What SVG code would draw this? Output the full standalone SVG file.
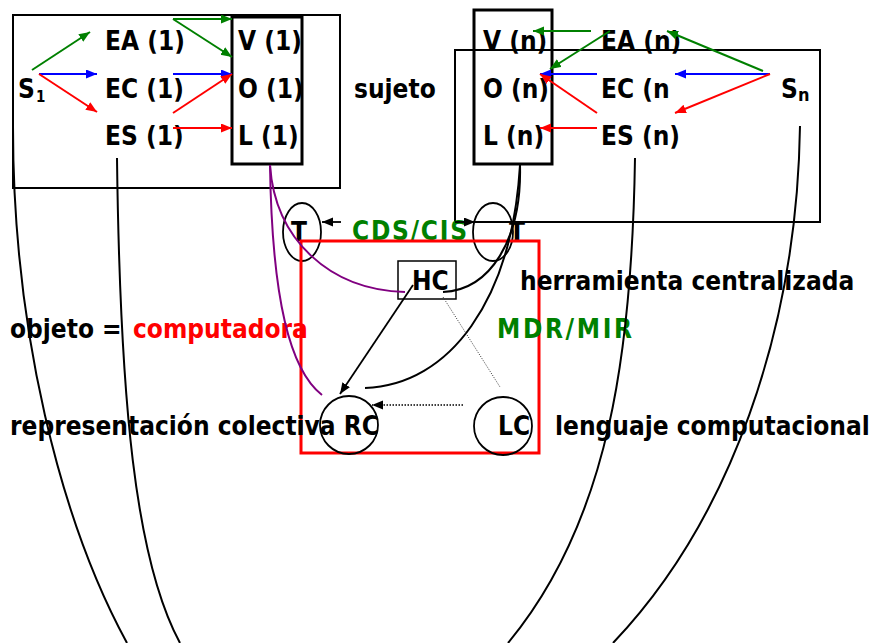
<svg xmlns="http://www.w3.org/2000/svg" width="877" height="643" viewBox="0 0 877 643">
  <defs>
    <style>
      text { font-family: "DejaVu Sans Condensed", "DejaVu Sans", "Liberation Sans", sans-serif; font-stretch: condensed; font-weight: bold; font-size: 26px; fill: #000; }
      .sub { font-size: 15px; }
      .subn { font-size: 18px; }
      .red { fill: #ff0000; }
      .green { fill: #008000; }
      .frame { fill: none; stroke: #000; stroke-width: 2; }
      .inner { fill: none; stroke: #000; stroke-width: 3; }
      .ring { fill: none; stroke: #000; stroke-width: 1.8; }
      .c-black { fill: none; stroke: #000; stroke-width: 2; }
      .c-purple { fill: none; stroke: #800080; stroke-width: 2; }
      .a-green { stroke: #008000; stroke-width: 2; marker-end: url(#ah-green); }
      .a-blue { stroke: #0000ff; stroke-width: 2; marker-end: url(#ah-blue); }
      .a-red { stroke: #ff0000; stroke-width: 2; marker-end: url(#ah-red); }
      .a-black { stroke: #000; stroke-width: 1.8; marker-end: url(#ah-black); }
    </style>
    <marker id="ah-green" markerUnits="userSpaceOnUse" markerWidth="12" markerHeight="10" refX="11" refY="4.5" orient="auto"><path d="M0,0 L11,4.5 L0,9 z" fill="#008000"/></marker>
    <marker id="ah-blue" markerUnits="userSpaceOnUse" markerWidth="12" markerHeight="10" refX="11" refY="4.5" orient="auto"><path d="M0,0 L11,4.5 L0,9 z" fill="#0000ff"/></marker>
    <marker id="ah-red" markerUnits="userSpaceOnUse" markerWidth="12" markerHeight="10" refX="11" refY="4.5" orient="auto"><path d="M0,0 L11,4.5 L0,9 z" fill="#ff0000"/></marker>
    <marker id="ah-black" markerUnits="userSpaceOnUse" markerWidth="12" markerHeight="10" refX="11" refY="4.5" orient="auto"><path d="M0,0 L11,4.5 L0,9 z" fill="#000"/></marker>
  </defs>

  <rect width="877" height="643" fill="#fff"/>

  <!-- subject 1 -->
  <g id="sujeto-1">
    <rect class="frame" x="13" y="15" width="327" height="173"/>
    <text x="18" y="98">S</text><text class="sub" x="36" y="102">1</text>
    <text x="105" y="50">EA (1)</text>
    <text x="105" y="98">EC (1)</text>
    <text x="105" y="145">ES (1)</text>
  </g>
  <g id="vol-1">
    <rect class="inner" x="232" y="17" width="70" height="147"/>
    <text x="238" y="50">V (1)</text>
    <text x="238" y="98">O (1)</text>
    <text x="238" y="145">L (1)</text>
  </g>

  <text id="label-sujeto" x="354" y="98">sujeto</text>

  <!-- subject n -->
  <g id="sujeto-n">
    <rect class="frame" x="455" y="50" width="365" height="172"/>
    <text x="601" y="50">EA (n)</text>
    <text x="601" y="98">EC (n</text>
    <text x="601" y="145">ES (n)</text>
    <text x="781" y="98">S</text><text class="subn" x="798" y="101">n</text>
  </g>
  <g id="vol-n">
    <rect class="inner" x="474" y="10" width="78" height="154"/>
    <text x="483" y="50">V (n)</text>
    <text x="483" y="98">O (n)</text>
    <text x="483" y="145">L (n)</text>
  </g>

  <!-- transfer ellipses -->
  <g id="t-left">
    <ellipse class="ring" cx="302" cy="232" rx="19" ry="29"/>
    <text x="291" y="241">T</text>
  </g>
  <g id="t-right">
    <ellipse class="ring" cx="493" cy="232" rx="20" ry="29"/>
    <text x="509" y="241">T</text>
  </g>
  <text id="label-cds" class="green" x="352" y="240" textLength="115" lengthAdjust="spacing">CDS/CIS</text>

  <!-- object frame -->
  <g id="objeto">
    <rect x="301" y="241" width="238" height="212" fill="none" stroke="#ff0000" stroke-width="3"/>
  </g>
  <g id="hc">
    <rect x="398" y="261" width="58" height="38" fill="none" stroke="#000" stroke-width="1.5"/>
    <text x="412" y="290">HC</text>
  </g>
  <g id="rc">
    <circle class="ring" cx="349" cy="425" r="29"/>
  </g>
  <g id="lc">
    <circle class="ring" cx="503" cy="426" r="29"/>
    <text x="498" y="435">LC</text>
  </g>

  <text id="label-hc" x="520" y="290">herramienta centralizada</text>
  <text id="label-objeto" x="10" y="338">objeto = <tspan class="red" x="133">computadora</tspan></text>
  <text id="label-mdr" class="green" x="497" y="338" textLength="135" lengthAdjust="spacing">MDR/MIR</text>
  <text id="label-rc" x="10" y="435">representación colectiva RC</text>
  <text id="label-lc" x="555" y="435">lenguaje computacional</text>

  <g id="connectors">
    <!-- S1 to EA/EC/ES -->
    <line class="a-green" x1="32" y1="70" x2="90" y2="32"/>
    <line class="a-blue" x1="39" y1="74" x2="97" y2="74"/>
    <line class="a-red" x1="39" y1="74" x2="97" y2="112"/>
    <!-- EA/EC/ES to V/O/L (1) -->
    <line class="a-green" x1="173" y1="19" x2="232" y2="19"/>
    <line class="a-green" x1="173" y1="19" x2="232" y2="57"/>
    <line class="a-blue" x1="173" y1="74" x2="232" y2="74"/>
    <line class="a-red" x1="173" y1="113" x2="232" y2="74"/>
    <line class="a-red" x1="173" y1="128" x2="232" y2="128"/>
    <!-- Sn to EA/EC/ES -->
    <line class="a-green" x1="763" y1="71" x2="667" y2="31"/>
    <line class="a-blue" x1="770" y1="74" x2="675" y2="74"/>
    <line class="a-red" x1="770" y1="74" x2="675" y2="113"/>
    <!-- EA/EC/ES to V/O/L (n) -->
    <line class="a-green" x1="591" y1="31" x2="533" y2="31"/>
    <line class="a-green" x1="610" y1="31" x2="550" y2="69"/>
    <line class="a-blue" x1="597" y1="74" x2="540" y2="74"/>
    <line class="a-red" x1="597" y1="113" x2="540" y2="74"/>
    <line class="a-red" x1="597" y1="128" x2="540" y2="128"/>

    <!-- transfer arrows -->
    <line class="a-black" x1="341" y1="222" x2="322" y2="222"/>
    <line class="a-black" x1="455" y1="222" x2="475" y2="222"/>

    <!-- purple links from L (1) -->
    <path class="c-purple" d="M270,165 C275,240 330,290 405,292"/>
    <path class="c-purple" d="M270,165 C272,300 290,370 322,395"/>

    <!-- black links from L (n) -->
    <path class="c-black" d="M520,165 C522,240 490,290 443,292"/>
    <path class="c-black" d="M520,165 C512,300 450,385 365,388"/>

    <!-- HC to RC, LC to RC, HC to LC -->
    <line class="a-black" x1="413" y1="285" x2="340" y2="394"/>
    <line x1="463" y1="405" x2="372" y2="405" stroke="#000" stroke-width="1.5" stroke-dasharray="1.5 1.5" marker-end="url(#ah-black)"/>
    <line x1="443" y1="297" x2="500" y2="387" stroke="#333" stroke-width="1" stroke-dasharray="1 1.5"/>

    <!-- long arcs -->
    <path class="c-black" d="M13,127 C13,330 60,520 127,643"/>
    <path class="c-black" d="M117,158 C120,400 135,560 180,643"/>
    <path class="c-black" d="M635,158 C632,350 610,520 508,643"/>
    <path class="c-black" d="M800,126 C797,330 730,520 613,643"/>
  </g>
</svg>
